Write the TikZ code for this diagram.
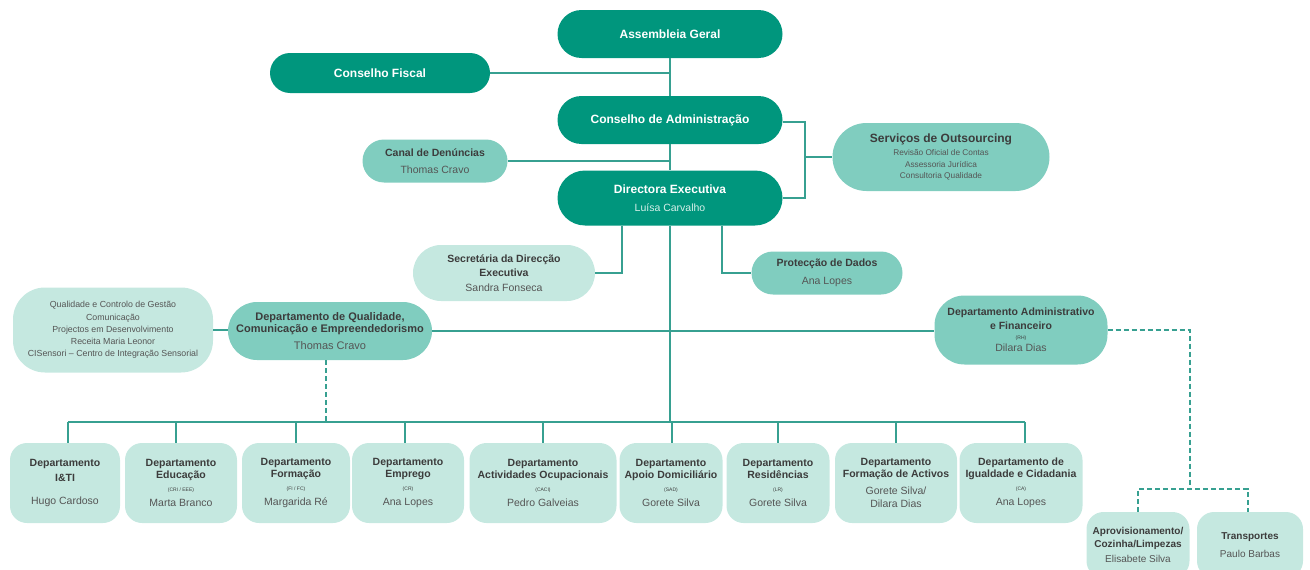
\documentclass[tikz,border=0pt]{standalone}
\usepackage{fontspec}
\setmainfont{Liberation Sans}
\definecolor{tealdark}{RGB}{0,150,125}
\definecolor{tealmid}{RGB}{128,205,191}
\definecolor{teallight}{RGB}{197,232,224}
\definecolor{linecol}{RGB}{55,160,145}
\definecolor{txtdark}{RGB}{60,60,60}
\definecolor{txtname}{RGB}{85,85,85}
\definecolor{namelight}{RGB}{215,240,234}
\newcommand\dname[1]{{\mdseries\color{txtname}#1}}
\newcommand\dwname[1]{{\mdseries\fontsize{10.5}{12}\selectfont\color{namelight}#1}}
\newcommand\dcode[1]{{\mdseries\fontsize{5}{6}\selectfont #1}}
\tikzset{
  box/.style={rectangle, draw=none, align=center, inner sep=1pt},
  darkbox/.style={box, fill=tealdark, text=white, font=\fontsize{12}{14}\selectfont\bfseries},
  midbox/.style={box, fill=tealmid, text=txtdark, font=\fontsize{10.5}{12}\selectfont},
  lightbox/.style={box, fill=teallight, text=txtdark, font=\fontsize{10.5}{12}\selectfont},
  dept/.style={lightbox, minimum height=80, rounded corners=17, font=\fontsize{10.5}{11.5}\selectfont},
  conn/.style={draw=linecol, line width=1.3pt},
  dconn/.style={conn, dash pattern=on 5pt off 3pt},
}
\begin{document}
\begin{tikzpicture}[x=1pt,y=-1pt]
\useasboundingbox (0,0) rectangle (1310,570);
\clip (0,0) rectangle (1310,570);
% top
\node[darkbox, minimum width=225, minimum height=48, rounded corners=24] (ag) at (670,34) {Assembleia Geral};
\node[darkbox, minimum width=220, minimum height=40, rounded corners=20] (cf) at (380,73) {Conselho Fiscal};
\node[darkbox, minimum width=225, minimum height=48, rounded corners=24] (ca) at (670,120) {Conselho de Administração};
\node[midbox, minimum width=145, minimum height=43, rounded corners=21.5] (cd) at (435,161) {\textbf{Canal de Denúncias}\\[5pt]\dname{Thomas Cravo}};
\node[darkbox, minimum width=225, minimum height=55, rounded corners=27.5] (de) at (670,198) {Directora Executiva\\[4pt]\dwname{Luísa Carvalho}};
\node[midbox, minimum width=217, minimum height=68, rounded corners=34] (so) at (941,157)
  {{\fontsize{12}{14}\selectfont\bfseries Serviços de Outsourcing}\\[1pt]
   {\fontsize{8.3}{11}\selectfont\color{txtname}Revisão Oficial de Contas}\\[-0.5pt]
   {\fontsize{8.3}{11}\selectfont\color{txtname}Assessoria Jurídica}\\[-0.5pt]
   {\fontsize{8.3}{11}\selectfont\color{txtname}Consultoria Qualidade}};
\node[lightbox, minimum width=182, minimum height=56, rounded corners=28] (sec) at (504,273) {\textbf{Secretária da Direcção}\\[2pt]\textbf{Executiva}\\[3pt]\dname{Sandra Fonseca}};
\node[midbox, minimum width=151, minimum height=43, rounded corners=21.5] (pd) at (827,273) {\textbf{Protecção de Dados}\\[6pt]\dname{Ana Lopes}};
\node[midbox, minimum width=204, minimum height=58, rounded corners=29, font=\fontsize{11}{12.5}\selectfont] (dq) at (330,331) {\textbf{Departamento de Qualidade,}\\\textbf{Comunicação e Empreendedorismo}\\[4pt]\dname{Thomas Cravo}};
\node[lightbox, minimum width=200, minimum height=85, rounded corners=32, font=\fontsize{8.8}{12.2}\selectfont, text=txtname] (lb) at (113,330)
  {Qualidade e Controlo de Gestão\\Comunicação\\Projectos em Desenvolvimento\\Receita Maria Leonor\\CISensori -- Centro de Integração Sensorial};
\node[midbox, minimum width=173, minimum height=69, rounded corners=30] (da) at (1021,330) {\textbf{Departamento Administrativo}\\[2pt]\textbf{e Financeiro}\\[-2pt]\dcode{(RH)}\\[0pt]\dname{Dilara Dias}};
% bottom departments
\node[dept, minimum width=110] (b1) at (65,483) {\textbf{Departamento}\\[3pt]\textbf{I\&TI}\\[12pt]\dname{Hugo Cardoso}};
\node[dept, minimum width=112] (b2) at (181,483) {\textbf{Departamento}\\\textbf{Educação}\\[2pt]\dcode{(CRI / EEE)}\\[3pt]\dname{Marta Branco}};
\node[dept, minimum width=108] (b3) at (296,483) {\textbf{Departamento}\\\textbf{Formação}\\[2pt]\dcode{(FI / FC)}\\[3pt]\dname{Margarida Ré}};
\node[dept, minimum width=112] (b4) at (408,483) {\textbf{Departamento}\\\textbf{Emprego}\\[2pt]\dcode{(CR)}\\[3pt]\dname{Ana Lopes}};
\node[dept, minimum width=147] (b5) at (543,483) {\textbf{Departamento}\\\textbf{Actividades Ocupacionais}\\[2pt]\dcode{(CACI)}\\[3pt]\dname{Pedro Galveias}};
\node[dept, minimum width=103] (b6) at (671,483) {\textbf{Departamento}\\\textbf{Apoio Domiciliário}\\[2pt]\dcode{(SAD)}\\[3pt]\dname{Gorete Silva}};
\node[dept, minimum width=103] (b7) at (778,483) {\textbf{Departamento}\\\textbf{Residências}\\[2pt]\dcode{(LR)}\\[3pt]\dname{Gorete Silva}};
\node[dept, minimum width=122] (b8) at (896,483) {\textbf{Departamento}\\\textbf{Formação de Activos}\\[6pt]\dname{Gorete Silva/}\\[1pt]\dname{Dilara Dias}};
\node[dept, minimum width=123] (b9) at (1021,483) {\textbf{Departamento de}\\\textbf{Igualdade e Cidadania}\\[2pt]\dcode{(CA)}\\[3pt]\dname{Ana Lopes}};
\node[dept, minimum width=103, minimum height=66, font=\fontsize{10}{11.5}\selectfont] (apr) at (1138,545) {\textbf{Aprovisionamento/}\\[1pt]\textbf{Cozinha/Limpezas}\\[4pt]\dname{Elisabete Silva}};
\node[dept, minimum width=106, minimum height=66, font=\fontsize{10}{11.5}\selectfont] (tr) at (1250,545) {\textbf{Transportes}\\[7pt]\dname{Paulo Barbas}};
% coordinates
\coordinate (bus) at (670,422);
\coordinate (oj) at (805,157);
\coordinate (dj) at (1190,489);
% connectors
\draw[conn] (ag.south) -- (ca.north);
\draw[conn] (ca.south) -- (de.north);
\draw[conn] (cf.east) -- (cf.east -| ag.south);
\draw[conn] (cd.east) -- (cd.east -| de.north);
\draw[conn] ([yshift=-2pt]ca.east) -| (oj) |- (de.east);
\draw[conn] (oj) -- (so.west);
\draw[conn] ([xshift=-48pt]de.south) |- (sec.east);
\draw[conn] ([xshift=52pt]de.south) |- (pd.west);
\draw[conn] (de.south) -- (de.south |- bus);
\draw[conn] (lb.east) -- (lb.east -| dq.west);
\draw[conn] (dq.east) -- (dq.east -| da.west);
\draw[conn] ([xshift=3pt]b1.north |- bus) -- ([xshift=4pt]b9.north |- bus);
\foreach \b/\s in {b1/3,b2/-5,b3/0,b4/-3,b5/0,b6/1,b7/0,b8/0,b9/4}
  \draw[conn] ([xshift=\s pt]\b.north) -- ([xshift=\s pt]\b.north |- bus);
\draw[dconn] ([xshift=-4pt]dq.south) -- ([xshift=-4pt]dq.south |- bus);
\draw[dconn] (da.east) -| (dj);
\draw[dconn] (apr.north) |- (dj) -| ([xshift=-2pt]tr.north);
\end{tikzpicture}
\end{document}
